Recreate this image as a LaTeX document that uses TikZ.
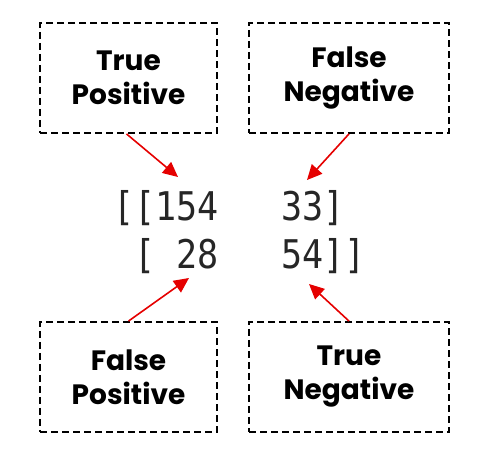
\documentclass[tikz,border=0pt]{standalone}
\usepackage{fontspec}
\setmainfont{Poppins}
\setmonofont{DejaVu Sans Mono}
\usetikzlibrary{arrows.meta,positioning}

\begin{document}
\begin{tikzpicture}[x=1pt, y=-1pt]
        \tikzstyle{box} = [rectangle, draw, dashed, dash pattern=on 7pt off 4pt, line width=1.8pt, minimum height=110pt, align=center, font=\fontsize{28}{34}\selectfont\bfseries]
        \tikzstyle{line} = [draw, red!90!black, line width=1.6pt, -{Triangle[length=15pt, width=14pt]}]
        \useasboundingbox (0,0) rectangle (480,470);

        \node [box, minimum width=177pt] (tp) at (128.5,78) {True\\Positive};
        \node [box, minimum width=200pt] (fn) at (349,78) {False\\Negative};
        \node [box, minimum width=177pt] (fp) at (128.5,377) {False\\Positive};
        \node [box, minimum width=200pt] (tn) at (349,377) {True\\Negative};

        % confusion matrix printout
        \node [anchor=base west, inner sep=0pt, text=black!85, yscale=1.13, transform shape, font=\ttfamily\fontsize{35}{35}\selectfont] (row1) at (113,221) {[[154~~~33]};
        \node [anchor=base west, inner sep=0pt, text=black!85, yscale=1.13, transform shape, font=\ttfamily\fontsize{35}{35}\selectfont] (row2) at (113,269) {~[~28~~~54]]};

        \coordinate (tpend) at (178,177);
        \coordinate (fnend) at (307,180);
        \coordinate (fpend) at (189,278);
        \coordinate (tnend) at (309,284);

        \path [line] ([xshift=-2pt]tp.south) -- (tpend);
        \path [line] (fn.south) -- (fnend);
        \path [line] (fp.north) -- (fpend);
        \path [line] (tn.north) -- (tnend);
    \end{tikzpicture}
\end{document}
